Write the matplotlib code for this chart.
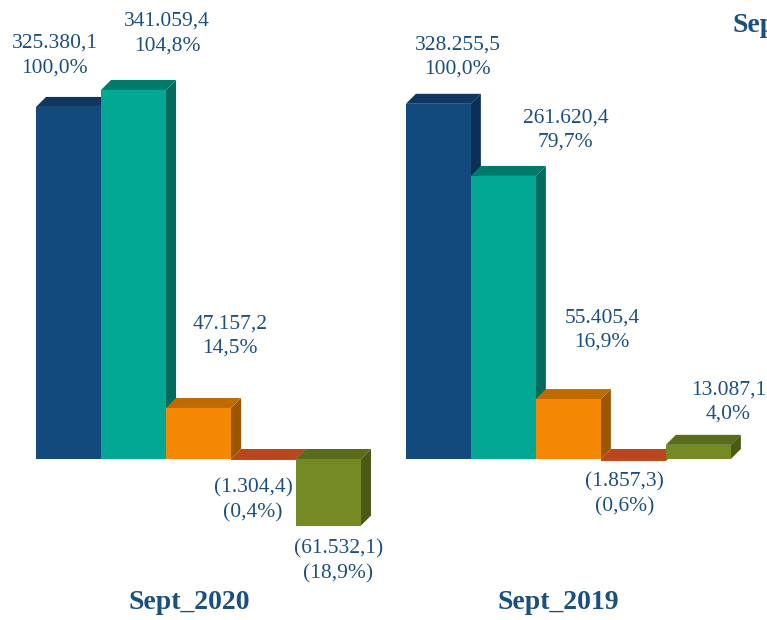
import matplotlib
matplotlib.use("Agg")
import matplotlib.pyplot as plt
from matplotlib.patches import Polygon

# ---- data (thousands) ----
groups = ["Sept_2020", "Sept_2019"]
values_2020 = [325380.1, 341059.4, 47157.2, -1304.4, -61532.1]
values_2019 = [328255.5, 261620.4, 55405.4, -1857.3, 13087.1]
labels_2020 = ["325.380,1\n100,0%", "341.059,4\n104,8%", "47.157,2\n14,5%",
               "(1.304,4)\n(0,4%)", "(61.532,1)\n(18,9%)"]
labels_2019 = ["328.255,5\n100,0%", "261.620,4\n79,7%", "55.405,4\n16,9%",
               "(1.857,3)\n(0,6%)", "13.087,1\n4,0%"]
next_title = "Sept_2021"

# ---- styles ----
front = ["#124a7e", "#03a894", "#f48805", "#c24a1f", "#758a25"]
top = ["#0e3862", "#027a6b", "#c06a02", "#b9461d", "#586c1a"]
side = ["#0b2f55", "#026b5e", "#9b5700", "#9a3a17", "#4a5a16"]
txt_color = "#1b4f7f"

# label offsets (local x in bar units, y in thousands)
label_pos_2020 = [(0.29, 373), (2.02, 393), (2.98, 113.7), (3.34, -37.9), (4.65, -94.3)]
label_pos_2019 = [(0.80, 371.5), (2.46, 304), (3.02, 119), (3.37, -33), (4.96, 52.7)]

group_offset = 5.69
dx, dy = 0.154, 9.24

fig = plt.figure(figsize=(7.67, 6.20), dpi=100)
ax = fig.add_axes([0, 0, 1, 1])
ax.set_xlim(-0.554, 11.246)
ax.set_ylim(-148.8, 424.2)
ax.axis("off")

def draw_bar(x0, v, i):
    x1 = x0 + 1.0
    hi = max(v, 0.0)
    lo = min(v, 0.0)
    # side face
    ax.add_patch(Polygon([(x1, lo), (x1 + dx, lo + dy), (x1 + dx, hi + dy), (x1, hi)],
                         closed=True, facecolor=side[i], edgecolor="none"))
    # top face
    ax.add_patch(Polygon([(x0, hi), (x0 + dx, hi + dy), (x1 + dx, hi + dy), (x1, hi)],
                         closed=True, facecolor=top[i], edgecolor="none"))
    # front face
    ax.bar(x0, hi - lo, bottom=lo, width=1.0, align="edge", color=front[i],
           edgecolor="none")

all_vals = [values_2020, values_2019]
all_labels = [labels_2020, labels_2019]
all_pos = [label_pos_2020, label_pos_2019]

for g, (vals, labs, poss) in enumerate(zip(all_vals, all_labels, all_pos)):
    off = g * group_offset
    for i, v in enumerate(vals):
        draw_bar(off + i, v / 1000.0, i)
    for lab, (lx, ly) in zip(labs, poss):
        ax.text(off + lx, ly, lab, ha="center", va="center", color=txt_color,
                fontsize=15.5, family="Liberation Serif", linespacing=1.4)
    ax.text(off + 2.35, -133, groups[g], ha="center", va="center", color=txt_color,
            fontsize=20, fontweight="bold", family="Liberation Serif")

ax.text(10.72, 401, next_title, ha="left", va="center", color=txt_color,
        fontsize=20, fontweight="bold", family="Liberation Serif")

fig.savefig("out.png", dpi=100)
